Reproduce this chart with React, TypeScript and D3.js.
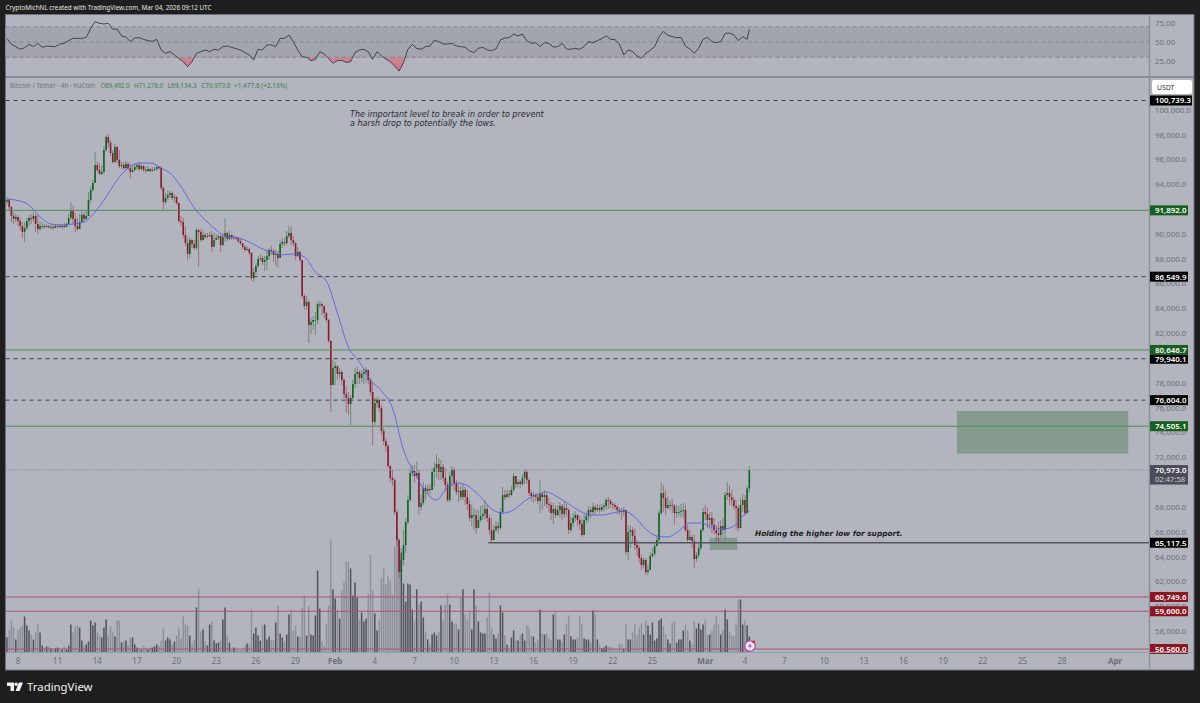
import React from 'react';
import * as d3 from 'd3';

// 4h candles from Jan 7 04:00 UTC, prices in thousands of USDT. Each open is the previous close.
const firstOpen = 92.6;
const closes = [
  92.73,92.16,91.44,91.20,91.36,91.03,90.63,90.15,90.47,91.03,
  91.28,91.20,91.44,90.79,90.39,90.63,90.63,90.55,90.63,90.55,
  90.55,90.47,90.63,90.63,90.55,90.63,90.55,90.79,91.28,91.84,
  91.20,90.63,90.39,90.95,91.52,91.20,91.44,92.73,93.53,94.10,
  95.54,95.14,94.82,94.98,96.75,97.80,97.32,96.51,95.79,96.99,
  95.95,95.46,95.54,95.30,95.63,95.30,94.98,95.14,95.38,95.54,
  95.22,95.46,95.14,95.06,95.22,95.06,95.14,95.22,95.38,95.30,
  93.69,92.56,92.89,93.13,93.29,92.89,92.97,92.48,91.03,90.95,
  89.91,89.26,88.38,89.50,89.18,88.86,90.31,90.15,89.50,89.91,
  89.74,89.82,89.91,88.94,89.50,89.66,89.82,89.10,89.74,90.07,
  89.58,89.91,89.66,89.74,89.66,89.42,89.26,88.94,88.70,88.78,
  88.46,86.44,86.93,87.41,87.97,88.05,87.73,87.89,88.21,88.70,
  88.62,88.30,88.38,88.05,89.18,89.34,89.26,89.82,90.07,89.50,
  89.26,88.21,88.54,87.89,84.99,84.19,84.51,82.66,82.90,83.06,
  83.06,84.35,84.35,84.19,83.62,83.06,81.37,77.82,79.19,79.35,
  78.71,78.87,78.23,77.10,76.78,76.29,76.78,77.90,78.71,78.87,
  78.39,78.71,78.87,79.03,78.23,77.26,74.84,76.37,76.62,75.97,
  74.12,73.31,72.91,71.30,70.33,70.17,67.59,65.34,62.76,63.73,
  64.93,66.79,68.56,70.74,70.90,70.49,70.74,68.00,68.32,69.53,
  69.29,69.45,69.37,70.82,71.14,71.46,70.82,71.22,70.33,69.77,
  68.56,70.49,70.98,69.93,69.21,69.29,68.80,69.37,68.80,68.24,
  67.11,67.35,67.35,66.30,66.95,67.27,67.43,67.84,67.11,66.14,
  65.34,66.14,66.46,66.30,67.59,68.96,68.80,69.04,68.96,69.37,
  70.49,69.85,70.01,69.85,70.33,70.82,70.17,69.12,68.88,68.96,
  68.80,68.48,69.04,68.80,68.96,68.24,68.16,67.51,67.84,67.35,
  67.76,68.08,67.43,67.92,67.76,66.14,66.71,67.11,67.35,66.95,
  66.63,65.74,66.95,67.27,67.76,67.59,68.00,67.76,67.92,67.76,
  68.00,68.08,68.56,68.48,68.24,68.16,68.00,67.76,67.67,67.59,
  67.76,64.37,65.98,66.14,65.66,64.93,64.69,63.89,63.32,63.73,
  62.76,62.92,64.05,64.21,64.85,65.34,67.51,69.12,68.72,67.92,
  68.16,68.16,68.08,67.51,67.59,67.59,67.67,67.76,66.14,65.34,
  65.58,65.26,63.81,64.13,64.69,66.14,67.59,67.43,66.95,67.11,
  66.55,66.14,65.90,65.74,66.46,66.14,68.96,69.12,68.80,68.56,
  68.08,67.92,66.30,68.16,68.56,67.51,69.49,70.97,
];
const highs = [
  92.97,92.89,92.24,91.76,91.60,91.52,91.28,90.95,90.95,91.28,
  91.52,91.60,91.76,91.60,91.52,91.03,90.95,90.79,90.79,90.71,
  90.79,90.71,90.79,90.79,90.79,90.79,90.87,90.95,91.60,92.56,
  92.32,91.68,91.28,91.60,91.92,91.76,91.84,93.37,93.85,94.34,
  96.59,95.79,95.71,95.46,97.07,97.96,98.04,97.56,96.75,97.24,
  97.07,96.75,95.79,95.79,95.87,95.79,95.63,95.54,95.63,95.71,
  95.79,95.71,95.54,95.38,95.46,95.30,95.38,95.38,95.54,95.46,
  95.46,93.85,93.29,93.45,93.45,93.37,93.21,93.05,92.56,91.44,
  91.28,90.63,89.66,89.74,89.58,89.50,90.47,90.39,90.39,90.31,
  90.07,90.07,90.15,90.23,90.07,89.99,89.99,89.91,90.07,91.28,
  90.15,90.23,89.99,89.91,89.82,89.74,89.66,89.26,89.10,89.02,
  88.86,88.54,87.25,87.65,88.21,88.38,88.21,88.21,88.70,88.86,
  89.02,88.78,88.70,88.62,89.50,89.66,89.66,90.23,90.63,90.55,
  89.82,89.34,88.94,88.62,87.89,85.15,84.99,84.67,83.22,83.38,
  83.70,84.51,84.59,84.51,84.19,83.70,83.14,81.45,79.84,79.68,
  79.19,79.19,79.03,78.39,77.74,77.26,77.02,78.23,79.19,79.27,
  79.03,79.03,79.19,79.27,79.11,78.39,78.06,76.78,76.86,76.78,
  76.21,74.36,73.55,73.07,71.38,70.98,70.33,67.76,65.50,64.69,
  66.14,67.11,68.96,71.14,71.38,71.38,71.70,70.98,68.96,70.01,
  69.77,69.85,69.85,71.14,71.62,72.26,71.94,71.78,71.46,71.14,
  70.01,70.82,71.30,71.14,70.17,69.85,69.69,69.85,69.61,69.37,
  68.56,68.16,67.92,67.76,67.76,68.08,68.16,68.56,68.16,67.35,
  67.11,66.55,66.87,66.79,67.92,69.61,69.37,69.37,69.37,69.69,
  70.74,70.49,70.25,70.17,70.66,71.06,70.98,70.33,69.37,69.21,
  69.12,69.04,70.17,69.21,69.37,69.12,68.72,68.40,68.32,68.16,
  68.16,68.40,68.24,68.40,68.24,67.92,67.19,67.51,67.67,67.43,
  67.27,67.03,67.35,67.59,68.08,68.00,68.32,68.16,68.24,68.16,
  68.24,68.32,68.72,68.80,68.64,68.40,68.32,68.16,68.00,67.92,
  68.00,67.76,66.55,66.55,66.38,66.30,65.34,64.93,64.13,63.89,
  63.89,63.32,64.37,64.69,65.18,65.66,67.76,70.01,69.77,69.37,
  68.80,68.56,68.64,68.24,68.16,68.08,68.24,68.32,68.16,66.55,
  66.14,65.74,65.74,64.37,65.18,66.30,67.92,68.16,67.92,67.59,
  67.59,67.11,66.55,66.79,66.95,67.11,69.21,70.01,69.77,69.37,
  68.80,68.56,68.16,68.72,69.04,68.96,69.69,71.28,
];
const lows = [
  92.40,91.92,90.95,90.79,90.95,90.63,90.31,89.66,89.34,90.31,
  90.63,90.79,90.95,90.15,89.99,90.23,90.39,90.39,90.47,90.39,
  90.39,90.31,90.47,90.47,90.47,90.39,90.47,90.55,90.79,91.11,
  90.79,90.15,90.23,90.55,91.20,90.95,91.11,91.92,92.48,93.37,
  94.10,94.98,94.74,94.74,94.82,96.59,96.99,96.27,95.63,95.71,
  95.71,95.30,95.22,95.14,95.22,95.14,94.42,94.98,95.06,95.14,
  95.06,95.14,94.98,94.90,94.98,94.98,94.98,95.06,95.06,95.14,
  93.53,91.92,92.40,92.73,92.89,92.73,92.48,92.32,90.87,90.63,
  89.66,89.02,87.89,88.05,88.86,88.70,88.70,87.33,89.34,89.42,
  89.58,89.66,89.74,88.54,89.26,89.50,89.50,88.54,89.02,89.34,
  89.42,89.50,89.50,89.50,89.50,89.26,89.10,88.78,88.54,88.62,
  88.30,86.20,86.12,86.68,87.25,87.81,87.49,87.01,87.09,87.89,
  88.30,87.73,87.41,87.25,88.21,88.86,89.02,89.10,89.66,89.10,
  89.02,87.89,88.13,87.73,84.83,83.87,83.87,81.21,81.93,82.25,
  81.85,82.74,84.03,83.46,83.22,82.90,81.21,75.65,77.82,77.82,
  78.23,78.39,77.82,76.78,75.65,75.41,74.60,76.62,77.58,77.90,
  77.90,78.06,77.90,78.06,77.90,77.02,72.99,74.60,75.97,75.65,
  73.80,72.99,72.43,71.14,70.01,69.69,67.35,64.85,62.28,61.95,
  63.32,64.29,66.55,68.40,70.49,69.93,70.33,67.35,67.76,68.16,
  68.56,69.04,68.96,69.37,69.61,70.33,70.17,70.17,70.01,69.37,
  68.40,68.40,69.61,69.37,68.96,68.40,68.56,68.56,68.16,67.76,
  66.79,66.46,66.14,65.82,66.63,66.79,66.95,67.03,66.79,65.74,
  65.18,65.34,65.98,65.90,66.14,67.43,68.56,68.72,68.72,68.88,
  69.21,69.53,69.61,69.53,69.69,69.85,69.85,68.88,68.48,68.32,
  68.48,68.24,67.51,67.76,68.08,67.92,67.59,66.95,66.63,67.11,
  67.27,67.11,66.95,67.11,67.27,65.82,65.98,66.38,66.79,66.46,
  66.14,65.58,66.14,66.63,66.79,67.11,67.35,67.43,67.59,67.51,
  67.59,67.67,67.76,67.84,67.92,67.84,67.76,67.43,67.35,66.95,
  67.27,64.13,63.73,64.69,65.18,64.53,64.05,63.48,62.92,63.08,
  62.52,62.52,63.73,63.89,64.05,64.85,65.10,67.35,67.59,67.35,
  67.76,67.76,67.51,66.55,67.11,67.27,67.19,67.11,65.98,65.10,
  65.34,64.69,63.08,63.57,63.89,64.53,65.98,66.95,66.30,66.22,
  65.90,65.82,65.26,65.10,65.50,65.58,65.34,68.56,68.16,68.08,
  67.76,66.14,65.98,66.30,67.59,67.27,67.43,69.13,
];
const volumes = [
  15,22,32,25,13,23,25,27,36,27,22,18,13,20,28,20,7,5,6,6,
  4,3,4,5,3,3,6,3,7,28,20,26,27,25,12,7,8,11,32,27,
  30,20,17,15,25,33,17,26,21,16,32,32,10,11,12,7,15,15,8,5,
  4,3,7,4,3,5,5,6,8,6,12,24,12,15,13,8,11,17,25,14,
  36,28,27,17,8,13,45,64,21,23,11,7,28,31,12,9,10,12,33,45,
  17,10,3,5,4,3,3,3,7,9,8,43,19,25,17,12,27,28,13,16,
  12,12,30,47,19,15,11,18,38,43,22,27,16,16,45,57,17,46,18,17,
  37,82,44,11,7,29,47,113,63,54,42,34,62,70,91,91,84,57,70,55,
  33,40,31,34,59,98,62,39,22,33,75,85,68,76,72,58,106,120,105,100,
  69,51,69,68,43,32,63,48,51,35,21,13,8,18,20,17,21,47,32,48,
  58,48,31,29,29,23,55,63,38,33,40,23,63,47,31,20,19,19,35,60,
  24,18,14,19,47,40,17,8,4,15,22,13,12,17,19,12,27,25,17,16,
  10,13,43,19,18,19,14,12,38,41,13,13,11,18,29,37,16,13,13,15,
  37,29,14,13,13,10,42,38,13,8,4,5,7,6,6,5,3,3,9,8,
  4,28,13,13,20,29,17,25,29,18,32,27,18,30,12,14,32,34,26,18,
  13,9,30,32,10,13,13,22,28,22,12,8,31,24,29,23,28,33,18,18,
  22,28,36,28,18,22,43,33,21,17,17,29,52,53,28,32,27,16,
];
// moving average, one reading every 5 candles plus the last candle
const maValues = [
  92.81,92.68,92.32,91.36,90.79,90.71,90.79,90.95,91.76,92.97,
  94.34,95.30,95.70,95.70,95.30,94.74,93.53,92.08,91.11,90.31,
  89.74,89.66,89.34,88.86,88.54,88.30,88.38,88.14,86.93,86.20,
  83.62,80.88,79.68,78.23,77.34,75.97,72.59,70.74,69.21,68.56,
  69.61,69.93,69.61,68.80,67.84,67.51,67.76,68.48,68.96,69.21,
  68.80,68.24,67.67,67.35,67.35,67.51,67.67,67.19,66.22,65.66,
  65.58,66.06,66.71,66.71,66.38,66.22,66.46,67.43,67.67,
];
// RSI, one reading every 2 candles plus the last candle
const rsiValues = [
  54.8,46.9,43.9,40.4,42.5,46.9,43.9,48.2,43,44.7,
  44.3,43.9,47.4,48.2,51.8,54.8,54.8,54.8,56.1,68,
  76.8,74.6,73.7,74.6,66.7,67.1,57.9,56.6,50.4,55.3,
  55.7,53.5,51.8,50.9,53.5,39.5,35.1,37.3,32.9,28.5,
  24.1,17.5,24.1,35.1,37.3,39.5,37.3,40.4,39.5,43.9,
  44.7,43,41.2,39.5,36.4,32.9,26.3,40.4,39.5,46.1,
  46.1,43.9,54.8,54.8,59.2,50.4,39.5,30.7,29.8,25.4,
  27.2,37.3,34.2,28.5,21.9,25.4,25.9,23.2,24.1,36,
  39.5,40.4,37.3,27.2,37.3,31.6,27.6,24.1,18.4,11.8,
  22.8,40.4,46.9,41.7,40.4,43.9,44.7,52.6,50.4,47.4,
  47.4,48.2,44.7,43.9,43,38.2,36,41.7,43,39.5,
  38.6,40.8,52.6,55.3,55.7,60.5,57.9,60.5,51.8,48.2,
  49.1,43.9,49.1,48.2,43.4,43.9,48.2,40.8,40.4,41.7,
  40.4,43.9,50.4,49.1,51.8,54.4,57.9,53.5,53.1,47.4,
  32.9,39.5,37.3,31.6,28.5,35.1,39,43.9,57,64,
  58.8,57,55.7,56.1,44.7,40.8,35.1,41.7,53.5,56.1,
  50.4,49.1,50.4,61.4,61.8,59.2,51.8,57,53.5,66.7,
];

// 92,000 / 80,000 / 70,000 sit fully behind price tags, so they are left out
const priceTicks = [58000,60000,62000,64000,66000,68000,72000,74000,76000,78000,82000,84000,86000,88000,90000,94000,96000,98000,100000];
const rsiTicks = [75, 50, 25];
const rsiLevels = [70, 50, 30];
const dashedLevels = [100739.3, 86549.9, 79940.1, 76604.0];
const greenLevels = [91892.0, 80646.7, 74505.1];
const redLevels = [60749.6, 59600.0, 56560.0];
const supportLevel = 65117.5;
const lastPrice = 70973.0;
const timeTicks = [
  '2026-01-08','2026-01-11','2026-01-14','2026-01-17','2026-01-20','2026-01-23','2026-01-26','2026-01-29',
  '2026-02-01','2026-02-04','2026-02-07','2026-02-10','2026-02-13','2026-02-16','2026-02-19','2026-02-22','2026-02-25',
  '2026-03-01','2026-03-04','2026-03-07','2026-03-10','2026-03-13','2026-03-16','2026-03-19','2026-03-22','2026-03-25','2026-03-28',
  '2026-04-01',
];
const legendValues = ['O69,492.0', 'H71,276.0', 'L69,134.3', 'C70,973.0'];

const WIDTH = 1200;
const HEIGHT = 703;
const paneLeft = 5.5;
const paneRight = 1149.5;
const frameRight = 1194;
const frameTop = 14.5;
const frameBottom = 670;
const rsiBottom = 77;
const timeTop = 652.5;

const BG = '#b2b5be';
const DARK = '#1e1e1e';
const AXIS_TEXT = '#6b6e78';
const FONT = '"Noto Sans", sans-serif';
const ITALIC_FONT = '"DejaVu Sans", sans-serif';
const UP = '#12601f';
const DOWN = '#8c1a2a';
const STEP = 4 * 3600 * 1000;
const K = 1000;

const x = d3.scaleUtc()
  .domain([Date.UTC(2026, 0, 8), Date.UTC(2026, 3, 1)])
  .range([18, 1115]);
const y = d3.scaleLinear().domain([56560, 100739.3]).range([649, 100.5]);
const yRsi = d3.scaleLinear().domain([25, 75]).range([61, 23]);
const yVol = d3.scaleLinear().domain([0, 120]).range([timeTop, timeTop - 120]);

const firstCandle = Date.UTC(2026, 0, 7, 4);
const xAt = (i: number) => x(new Date(firstCandle + i * STEP));
const opens = closes.map((_, i) => (i === 0 ? firstOpen : closes[i - 1]));
const last = closes.length - 1;

const fmt = d3.format(',.1f');
const maLine = d3.line<number>()
  .x((_, i) => xAt(i === maValues.length - 1 ? last : i * 5))
  .y(d => y(d * K))
  .curve(d3.curveMonotoneX);
const rsiX = (i: number) => xAt(i === rsiValues.length - 1 ? last : i * 2);
const rsiLine = d3.line<number>().x((_, i) => rsiX(i)).y(d => yRsi(d));
const rsiArea = d3.area<number>().x((_, i) => rsiX(i)).y0(yRsi(30)).y1(d => yRsi(d));

const Tag = ({ value, fill }: { value: number; fill: string }) => (
  <g>
    <rect x={paneRight + 0.5} y={y(value) - 5} width={fmt(value).length > 8 ? 42 : 38} height={10} fill={fill} />
    <text x={paneRight + 5.5} y={y(value) + 2.9} fontSize={7.9} fontWeight={600} fill="#fff" fontFamily={FONT}>
      {fmt(value)}
    </text>
  </g>
);

export default function App() {
  return (
    <div style={{ position: 'absolute', left: 0, top: 0, width: WIDTH, height: HEIGHT }}>
      <svg width={WIDTH} height={HEIGHT} viewBox={`0 0 ${WIDTH} ${HEIGHT}`} style={{ display: 'block' }}>
        <defs>
          <clipPath id="main"><rect x={paneLeft} y={rsiBottom} width={paneRight - paneLeft} height={timeTop - rsiBottom} /></clipPath>
          <clipPath id="oversold"><rect x={paneLeft} y={yRsi(30)} width={paneRight - paneLeft} height={rsiBottom - yRsi(30)} /></clipPath>
          <linearGradient id="oversoldFill" x1="0" y1="0" x2="0" y2="1">
            <stop offset="0" stopColor="#f23645" stopOpacity={0.02} />
            <stop offset="1" stopColor="#f23645" stopOpacity={0.5} />
          </linearGradient>
        </defs>
        <rect width={WIDTH} height={HEIGHT} fill={DARK} />
        <rect x={paneLeft} y={frameTop} width={frameRight - paneLeft} height={frameBottom - frameTop} fill={BG} stroke="#70727b" />

        <text x={5.5} y={10} fontSize={6.6} fill="#e8e8e8" fontFamily={FONT} textLength={206} lengthAdjust="spacingAndGlyphs">
          CryptoMichNL created with TradingView.com, Mar 04, 2026 09:12 UTC
        </text>

        {/* RSI pane */}
        <rect x={paneLeft} y={yRsi(70)} width={paneRight - paneLeft} height={yRsi(30) - yRsi(70)} fill="#a2a5ae" />
        {rsiLevels.map(v => (
          <line key={v} x1={paneLeft} x2={paneRight} y1={yRsi(v)} y2={yRsi(v)} stroke="#84868f" strokeDasharray="4 3" />
        ))}
        <path d={rsiArea(rsiValues) || ''} fill="url(#oversoldFill)" clipPath="url(#oversold)" />
        <path d={rsiLine(rsiValues) || ''} fill="none" stroke="#37383e" strokeWidth={0.9} />
        {rsiTicks.map(v => (
          <text key={v} x={1155} y={yRsi(v) + 3} fontSize={7.9} fill={AXIS_TEXT} fontFamily={FONT}>{v.toFixed(2)}</text>
        ))}
        <line x1={paneLeft} x2={frameRight} y1={rsiBottom} y2={rsiBottom} stroke="#62646d" strokeWidth={1.2} />

        {/* legend */}
        <g fontSize={7.2} fontFamily={FONT}>
          <text x={10} y={88} fill="#6f727b" textLength={85} lengthAdjust="spacingAndGlyphs">Bitcoin / Tether · 4h · KuCoin</text>
          {legendValues.map((t, i) => (
            <text key={t} x={100.5 + i * 33.6} y={88} fill="#3b7a4e" textLength={29} lengthAdjust="spacingAndGlyphs">{t}</text>
          ))}
          <text x={234} y={88} fill="#3b7a4e" textLength={53} lengthAdjust="spacingAndGlyphs">+1,477.6 (+2.13%)</text>
        </g>

        <g clipPath="url(#main)">
          {/* zones */}
          <rect x={x(Date.UTC(2026, 2, 20, 1))} y={y(75730)} width={x(Date.UTC(2026, 3, 2))- x(Date.UTC(2026, 2, 20, 1))} height={y(72300) - y(75730)} fill="#4c7d55" fillOpacity={0.45} />
          <rect x={x(Date.UTC(2026, 2, 1, 8))} y={y(65520)} width={x(Date.UTC(2026, 2, 3, 10)) - x(Date.UTC(2026, 2, 1, 8))} height={y(64530) - y(65520)} fill="#4c7d55" fillOpacity={0.45} />

          {/* volume */}
          {volumes.map((v, i) => (
            <rect key={i} x={xAt(i) - 0.75} y={yVol(v)} width={1.5} height={yVol(0) - yVol(v)}
              fill={closes[i] >= opens[i] ? '#515359' : '#8f919a'} />
          ))}

          {/* candles */}
          {closes.map((c, i) => {
            const o = opens[i];
            const up = c >= o;
            const col = up ? UP : DOWN;
            const top = y(Math.max(o, c) * K);
            const bot = y(Math.min(o, c) * K);
            return (
              <g key={i}>
                <line x1={xAt(i)} x2={xAt(i)} y1={y(highs[i] * K)} y2={y(lows[i] * K)} stroke={col} strokeOpacity={0.45} strokeWidth={1} />
                <rect x={xAt(i) - 0.8} y={top} width={1.6} height={Math.max(bot - top, 0.8)} fill={col} />
              </g>
            );
          })}

          <path d={maLine(maValues) || ''} fill="none" stroke="#5b5fe6" strokeWidth={0.9} />

          {/* levels */}
          {dashedLevels.map(v => (
            <line key={v} x1={paneLeft} x2={paneRight} y1={y(v)} y2={y(v)} stroke="#3f4047" strokeDasharray="4 4" />
          ))}
          {greenLevels.map(v => (
            <line key={v} x1={paneLeft} x2={paneRight} y1={y(v)} y2={y(v)} stroke="#4f8a5b" />
          ))}
          {redLevels.map(v => (
            <line key={v} x1={paneLeft} x2={paneRight} y1={y(v)} y2={y(v)} stroke="#a35864" />
          ))}
          <line x1={x(Date.UTC(2026, 1, 12, 14))} x2={paneRight} y1={y(supportLevel)} y2={y(supportLevel)} stroke="#55575e" strokeWidth={1.4} />
          <line x1={paneLeft} x2={paneRight} y1={y(lastPrice)} y2={y(lastPrice)} stroke="#8e9099" strokeDasharray="1.5 1.5" />

          {/* notes */}
          <text x={350} y={117} fontSize={8.05} fontStyle="italic" fill="#2a2b30" fontFamily={ITALIC_FONT}>The important level to break in order to prevent</text>
          <text x={350} y={126} fontSize={8.05} fontStyle="italic" fill="#2a2b30" fontFamily={ITALIC_FONT}>a harsh drop to potentially the lows.</text>
          <text x={755} y={536} fontSize={7.4} fontStyle="italic" fontWeight={700} fill="#1c1d21" fontFamily={ITALIC_FONT}>Holding the higher low for support.</text>

          {/* news marker */}
          <circle cx={750} cy={646} r={5.2} fill="#f4f0f6" stroke="#b44ac9" strokeWidth={1.3} />
          <path d="M751 642.5 L748 646.5 L750 646.5 L749 649.5 L752 645.5 L750 645.5 Z" fill="#9c3fc0" />
          <circle cx={753.7} cy={641.8} r={1.5} fill="#e8303a" />
        </g>

        {/* price axis */}
        <line x1={paneRight} x2={paneRight} y1={frameTop} y2={frameBottom} stroke="#8b8e97" strokeWidth={1.4} />
        {priceTicks.map(v => (
          <text key={v} x={1155} y={y(v) + 3} fontSize={7.9} fill={AXIS_TEXT} fontFamily={FONT}>{fmt(v)}</text>
        ))}
        <rect x={1152} y={80} width={40} height={14} rx={2} fill="#fff" />
        <text x={1157} y={90} fontSize={6.8} fill="#333" fontFamily={FONT}>USDT</text>
        {dashedLevels.map(v => <Tag key={v} value={v} fill="#000" />)}
        <Tag value={supportLevel} fill="#000" />
        {greenLevels.map(v => <Tag key={v} value={v} fill="#17601f" />)}
        {redLevels.map(v => <Tag key={v} value={v} fill="#8c1622" />)}
        <rect x={paneRight + 0.5} y={y(lastPrice) - 5} width={38} height={19.5} fill="#4a4d58" />
        <text x={paneRight + 5.5} y={y(lastPrice) + 2.9} fontSize={7.9} fontWeight={600} fill="#fff" fontFamily={FONT}>{fmt(lastPrice)}</text>
        <text x={paneRight + 5.5} y={y(lastPrice) + 12} fontSize={7.6} fill="#cfd1d8" fontFamily={FONT}>02:47:58</text>

        {/* time axis */}
        <line x1={paneLeft} x2={frameRight} y1={timeTop} y2={timeTop} stroke="#9a9ca5" strokeWidth={1.2} />
        {timeTicks.map(t => {
          const d = new Date(t + 'T00:00:00Z');
          const first = d.getUTCDate() === 1;
          return (
            <text key={t} x={x(d)} y={664} textAnchor="middle" fontSize={8} fontWeight={first ? 700 : 400}
              fill={AXIS_TEXT} fontFamily={FONT}>
              {first ? d3.utcFormat('%b')(d) : d.getUTCDate()}
            </text>
          );
        })}

        {/* logo */}
        <g fill="#f2f2f2">
          <path d="M7 682.5 H14 V691 H10.5 V686 H7 Z" />
          <circle cx={16.2} cy={684.3} r={1.8} />
          <path d="M19 682.5 H23 L19.5 691 H15.5 Z" />
        </g>
        <text x={27} y={690.5} fontSize={11.4} fill="#f2f2f2" fontFamily={FONT}>TradingView</text>
      </svg>
    </div>
  );
}
